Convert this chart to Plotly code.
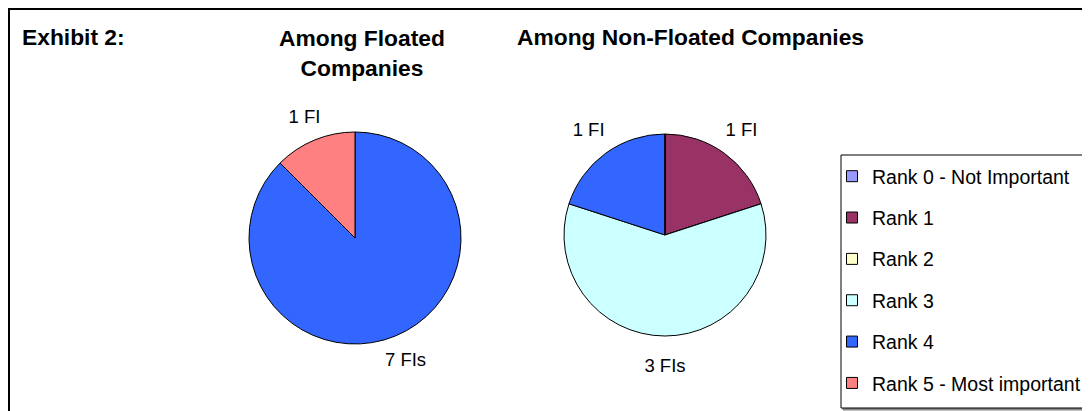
import plotly.graph_objects as go

# page has an 8px body margin, so the figure fills the rest of the window
W, H = 1082, 403

ranks = ["Rank 0 - Not Important", "Rank 1", "Rank 2", "Rank 3", "Rank 4",
         "Rank 5 - Most important"]
rank_colors = ["#9999FF", "#993366", "#FFFFCC", "#CCFFFF", "#3366FF", "#FF8080"]

floated_counts = [0, 0, 0, 0, 7, 1]
floated_labels = ["", "", "", "", "7 FIs", "1 FI"]

non_floated_counts = [0, 1, 0, 3, 1, 0]
non_floated_labels = ["", "1 FI", "", "3 FIs", "1 FI", ""]

FONT = "Liberation Sans, Arial, sans-serif"


def px_x(x):
    return x / W


def px_y(y):
    return 1 - y / H


def domain(cx, cy, r):
    return dict(x=[px_x(cx - r), px_x(cx + r)], y=[px_y(cy + r), px_y(cy - r)])


def pie(values, cx, cy, r):
    return go.Pie(
        labels=ranks,
        values=values,
        textinfo="none",
        marker=dict(colors=rank_colors, line=dict(color="black", width=1)),
        sort=False,
        direction="clockwise",
        rotation=0,
        showlegend=False,
        domain=domain(cx, cy, r),
        hovertemplate="%{label}: %{value}<extra></extra>",
    )


def label_ring(values, labels, cx, cy, r_in, r_out):
    # transparent ring around the pie that carries the slice labels
    return go.Pie(
        labels=ranks,
        values=values,
        text=labels,
        textinfo="text",
        textposition="inside",
        insidetextorientation="horizontal",
        textfont=dict(family=FONT, size=18.5, color="black"),
        marker=dict(colors=["rgba(0,0,0,0)"] * len(ranks),
                    line=dict(width=0)),
        hole=r_in / r_out,
        sort=False,
        direction="clockwise",
        rotation=0,
        showlegend=False,
        hoverinfo="skip",
        domain=domain(cx, cy, r_out),
    )


fig = go.Figure()
fig.add_trace(pie(floated_counts, 347, 230, 106))
fig.add_trace(pie(non_floated_counts, 657, 227, 101))
fig.add_trace(label_ring(floated_counts, floated_labels, 347, 230, 108, 156))
fig.add_trace(label_ring(non_floated_counts, non_floated_labels, 657, 227, 103, 157))

# legend entries (one group each so the spacing can be opened up)
for name, color in zip(ranks, rank_colors):
    fig.add_trace(go.Scatter(
        x=[None], y=[None], mode="markers", name=name, legendgroup=name,
        marker=dict(symbol="square", size=11, color=color,
                    line=dict(color="black", width=1)),
    ))

shapes = [
    # outer frame, clipped at right/bottom like the original
    dict(type="rect", xref="paper", yref="paper",
         x0=px_x(1), x1=px_x(1120), y0=px_y(440), y1=px_y(1),
         line=dict(color="black", width=2), layer="below"),
    # legend shadow + box
    dict(type="rect", xref="paper", yref="paper",
         x0=px_x(835), x1=px_x(1083), y0=px_y(402), y1=px_y(149),
         line=dict(color="#888888", width=1), fillcolor="#888888", layer="below"),
    dict(type="rect", xref="paper", yref="paper",
         x0=px_x(833), x1=px_x(1081), y0=px_y(400), y1=px_y(147),
         line=dict(color="black", width=1), fillcolor="white", layer="below"),
]

title_font = dict(family=FONT, size=22.8, color="black")
annotations = [
    dict(text="<b>Exhibit 2:</b>", x=px_x(12), y=px_y(29.5), xanchor="left",
         yanchor="middle", showarrow=False, font=title_font),
    dict(text="<b>Among Floated<br>Companies</b>", x=px_x(354), y=px_y(15),
         xanchor="center", yanchor="top", showarrow=False, font=title_font),
    dict(text="<b>Among Non-Floated Companies</b>", x=px_x(682), y=px_y(29.5),
         xanchor="center", yanchor="middle", showarrow=False, font=title_font),
]
for a in annotations:
    a["xref"] = "paper"
    a["yref"] = "paper"

fig.update_layout(
    width=W, height=H,
    margin=dict(l=0, r=0, t=0, b=0),
    paper_bgcolor="white", plot_bgcolor="white",
    xaxis=dict(visible=False), yaxis=dict(visible=False),
    shapes=shapes,
    annotations=annotations,
    legend=dict(
        x=px_x(824), y=px_y(149), xanchor="left", yanchor="top",
        bgcolor="rgba(0,0,0,0)", borderwidth=0,
        font=dict(family=FONT, size=19.5, color="black"),
        tracegroupgap=13,
    ),
    font=dict(family=FONT),
)

fig.write_html("out.html")
